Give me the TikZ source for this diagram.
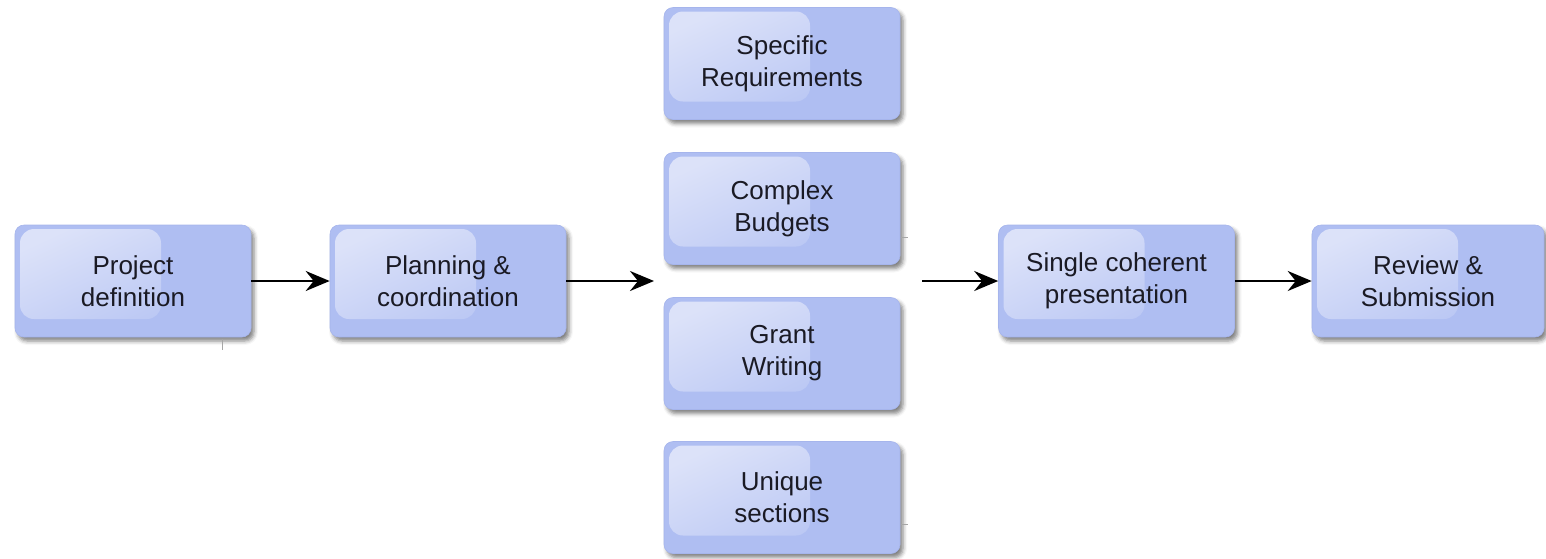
\documentclass[tikz,border=0pt]{standalone}
\usepackage{fontspec}
\setmainfont{Liberation Sans}
\usetikzlibrary{shadows.blur,arrows.meta,calc}
\definecolor{boxfill}{HTML}{AFBEF2}
\definecolor{boxline}{HTML}{A6B5EC}
\definecolor{hilite}{HTML}{DCE2F9}
\definecolor{txt}{HTML}{1A1A24}
\begin{document}
\begin{tikzpicture}[x=1pt,y=-1pt,
  stage/.style={rectangle, rounded corners=9pt, minimum width=236pt, minimum height=112pt,
    fill=boxfill, draw=boxline, line width=0.6pt, align=center,
    font=\fontsize{26}{32}\selectfont, text=txt, inner sep=0pt,
    blur shadow={shadow xshift=3pt, shadow yshift=-4pt, shadow blur radius=4pt, shadow opacity=50},
    path picture={\shade[shading=axis, top color=hilite, bottom color=boxfill!96!white,
        shading angle=25, rounded corners=14pt]
      ($(path picture bounding box.north west)+(5pt,-4pt)$) rectangle
      ($(path picture bounding box.north west)+(146pt,-94pt)$);}},
  flow/.style={-{Stealth[length=24pt,width=20pt,inset=8pt]}, line width=2.6pt},
  tick/.style={draw=gray!70, line width=1pt}]
\useasboundingbox (0,0) rectangle (1546,558);

\node[stage] (proj) at (133,281) {Project\\definition};
\node[stage] (plan) at (448,281) {Planning \&\\coordination};
\node[stage] (spec) at (782,63.5) {Specific\\Requirements};
\node[stage] (budg) at (782,208.5) {Complex\\Budgets};
\node[stage] (grant) at (782,353.5) {Grant\\Writing};
\node[stage] (uniq) at (782,497.5) {Unique\\sections};
\node[stage] (single) at (1116.5,281) {Single coherent\\presentation};
\node[stage, minimum width=232pt] (review) at (1428,281) {Review \&\\Submission};

\coordinate (midin) at (654,281);
\coordinate (midout) at (922,281);

\draw[flow] (proj) -- (plan);
\draw[flow] (plan) -- (midin);
\draw[flow] (midout) -- (single);
\draw[flow] (single) -- (review);

\draw[tick] (222,339) -- (222,350);
\draw[tick] (901,237) -- (908,237);
\draw[tick] (901,524) -- (908,524);
\end{tikzpicture}
\end{document}
